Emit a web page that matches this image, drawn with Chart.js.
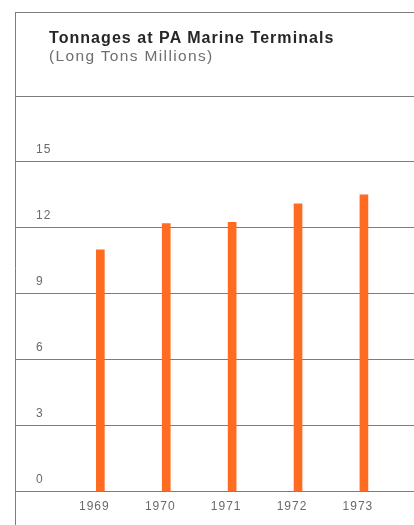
<!DOCTYPE html>
<html>
<head>
<meta charset="utf-8">
<title>Tonnages at PA Marine Terminals</title>
<script src="https://cdn.jsdelivr.net/npm/chart.js@4"></script>
<style>
    html, body { margin: 0; padding: 0; background: #fff; }
    .wrap { position: relative; width: 414px; height: 525px; overflow: hidden; }
    #tonnageChart { position: absolute; left: 0; top: 0; }
    .heading {
        position: absolute; left: 49px; margin: 0; white-space: nowrap;
        font-family: 'Liberation Sans', Arial, Helvetica, sans-serif; line-height: 16px;
    }
    .heading.main { top: 30px; font-size: 16px; font-weight: bold; color: #262626; letter-spacing: 1.05px; }
    .heading.sub { top: 48px; font-size: 15.5px; font-weight: normal; color: #6e6e6e; letter-spacing: 1.35px; }
</style>
</head>
<body>
<div class="wrap">
    <canvas id="tonnageChart" width="414" height="525"></canvas>
    <div class="heading main">Tonnages at PA Marine Terminals</div>
    <div class="heading sub">(Long Tons Millions)</div>
</div>
<script>
// Tonnage per year, long tons (millions)
const years = [1969, 1970, 1971, 1972, 1973];
const tonnage = [11.0, 12.2, 12.25, 13.1, 13.5];
const yLabelled = [0, 3, 6, 9, 12, 15];
const yMax = 18;

const ORANGE = '#ff6b21';
const GRID = '#7c7c7c';
const TEXT = '#6a6a6a';

// Outer frame (top rule and left rule running down the page)
const framePlugin = {
    id: 'frame',
    beforeDraw(chart) {
        const ctx = chart.ctx;
        ctx.save();
        ctx.strokeStyle = GRID;
        ctx.lineWidth = 1;
        ctx.beginPath();
        ctx.moveTo(15.5, 12);
        ctx.lineTo(15.5, chart.height);
        ctx.moveTo(15, 12.5);
        ctx.lineTo(chart.width, 12.5);
        ctx.stroke();
        ctx.restore();
    }
};

// Slightly tracked axis lettering
const trackingPlugin = {
    id: 'tracking',
    beforeUpdate(chart) { chart.ctx.letterSpacing = '1px'; },
    beforeDraw(chart) { chart.ctx.letterSpacing = '1px'; }
};

const axisFont = { family: "'Liberation Sans', Arial, Helvetica, sans-serif", size: 12 };

const ctx = document.getElementById('tonnageChart').getContext('2d');
new Chart(ctx, {
    type: 'bar',
    data: {
        datasets: [{
            data: years.map((y, i) => ({ x: y, y: tonnage[i] })),
            backgroundColor: ORANGE,
            borderWidth: 0,
            barThickness: 8
        }]
    },
    options: {
        responsive: false,
        animation: false,
        layout: { padding: { left: 16, right: 0, top: 96, bottom: 0 } },
        plugins: {
            legend: { display: false },
            tooltip: { enabled: false }
        },
        scales: {
            x: {
                type: 'linear',
                offset: false,
                min: 1967.72,
                max: 1973.76,
                afterFit(scale) { scale.height = 33.3; },
                grid: { display: false, drawTicks: false },
                border: { display: false },
                ticks: {
                    stepSize: 1,
                    includeBounds: false,
                    autoSkip: false,
                    maxRotation: 0,
                    padding: 7.5,
                    labelOffset: -6,
                    color: TEXT,
                    font: axisFont,
                    callback: v => years.includes(v) ? String(v) : ''
                }
            },
            y: {
                min: 0,
                max: yMax,
                afterFit(scale) { scale.width = 0; },
                grid: { color: GRID, lineWidth: 1, drawTicks: false },
                border: { display: false },
                ticks: {
                    stepSize: 3,
                    mirror: true,
                    padding: 20,
                    labelOffset: -12,
                    color: TEXT,
                    font: axisFont,
                    callback: v => yLabelled.includes(v) ? String(v) : ''
                }
            }
        }
    },
    plugins: [framePlugin, trackingPlugin]
});
</script>
</body>
</html>
